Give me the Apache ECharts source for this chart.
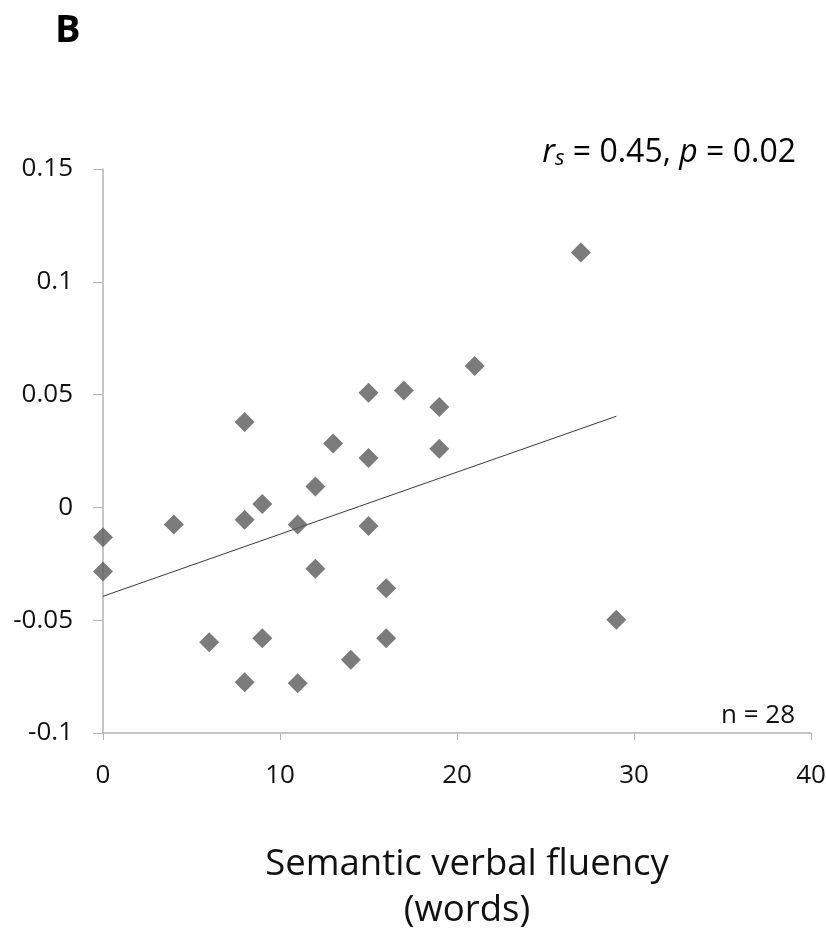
<!DOCTYPE html>
<html>
<head>
<meta charset="utf-8">
<script src="https://cdn.jsdelivr.net/npm/echarts@6/dist/echarts.min.js"></script>
<style>
html,body{margin:0;padding:0;background:#fff;}
#chart{width:826px;height:931px;}
</style>
</head>
<body>
<div id="chart"></div>
<script>
// Semantic verbal fluency (words)
var fluency = [0, 0, 4, 6, 8, 8, 8, 9, 9, 11, 11, 12, 12, 13, 14, 15, 15, 15, 16, 16, 17, 19, 19, 21, 27, 29];
// y values
var yValues = [-0.0132, -0.0284, -0.0076, -0.0598, 0.0379, -0.0055, -0.0775, 0.0015, -0.058, -0.0076, -0.078, 0.0093, -0.0272, 0.0283, -0.0675, 0.0508, 0.0219, -0.0083, -0.0358, -0.058, 0.0518, 0.0445, 0.026, 0.0627, 0.113, -0.0498];
// trend line endpoints
var trendX = [0, 29];
var trendY = [-0.0394, 0.0404];
var xTicks = [0, 10, 20, 30, 40];
var yTicks = [-0.1, -0.05, 0, 0.05, 0.1, 0.15];

var font = '"Open Sans", "Liberation Sans", sans-serif';
var points = fluency.map(function (x, i) { return [x, yValues[i]]; });
var trend = trendX.map(function (x, i) { return [x, trendY[i]]; });

var chart = echarts.init(document.getElementById('chart'), null, {renderer: 'canvas'});
chart.setOption({
  backgroundColor: '#ffffff',
  animation: false,
  grid: {left: 103, right: 15, top: 169, bottom: 198, containLabel: false, outerBoundsMode: 'none'},
  xAxis: {
    type: 'value',
    min: xTicks[0], max: xTicks[xTicks.length - 1], interval: 10,
    splitLine: {show: false},
    axisLine: {show: true, onZero: false, lineStyle: {color: '#b3b3b3', width: 1.5}},
    axisTick: {show: true, length: 7, lineStyle: {color: '#b3b3b3', width: 1}},
    axisLabel: {margin: 30, fontSize: 26, fontFamily: font, color: '#111'},
    name: 'Semantic verbal fluency\n(words)',
    nameLocation: 'middle',
    nameGap: 109,
    nameTextStyle: {fontSize: 36.5, fontFamily: font, color: '#111', lineHeight: 46, padding: [0, 0, 0, 20]}
  },
  yAxis: {
    type: 'value',
    min: yTicks[0], max: yTicks[yTicks.length - 1], interval: 0.05,
    splitLine: {show: false},
    axisLine: {show: true, onZero: false, lineStyle: {color: '#b3b3b3', width: 1.5}},
    axisTick: {show: true, length: 10, lineStyle: {color: '#b3b3b3', width: 1}},
    axisLabel: {margin: 30, fontSize: 26, fontFamily: font, color: '#111', padding: [0, 0, 4, 0]}
  },
  series: [
    {
      type: 'line',
      data: trend,
      symbol: 'none',
      lineStyle: {color: '#3a3a3a', width: 1},
      z: 1,
      silent: true
    },
    {
      type: 'scatter',
      data: points,
      symbol: 'diamond',
      symbolSize: 20,
      itemStyle: {color: '#5a5a5a'},
      z: 2
    }
  ],
  graphic: [
    {
      type: 'text', left: 55, top: 12,
      style: {text: 'B', fontSize: 38, fontWeight: 'bold', fontFamily: font, fill: '#000'}
    },
    {
      type: 'text', right: 30, top: 137,
      style: {
        text: '{i|r}{sub|s}{n| = 0.45, }{i|p}{n| = 0.02}',
        fontFamily: font,
        rich: {
          i: {fontSize: 32, fontStyle: 'italic', fontFamily: font, fill: '#000'},
          sub: {fontSize: 22, fontStyle: 'italic', fontFamily: font, fill: '#000', padding: [12, 0, 0, 0]},
          n: {fontSize: 32, fontFamily: font, fill: '#000'}
        }
      }
    },
    {
      type: 'text', right: 31, top: 703,
      style: {text: 'n = 28', fontSize: 26, fontFamily: font, fill: '#111'}
    }
  ]
});
</script>
</body>
</html>
